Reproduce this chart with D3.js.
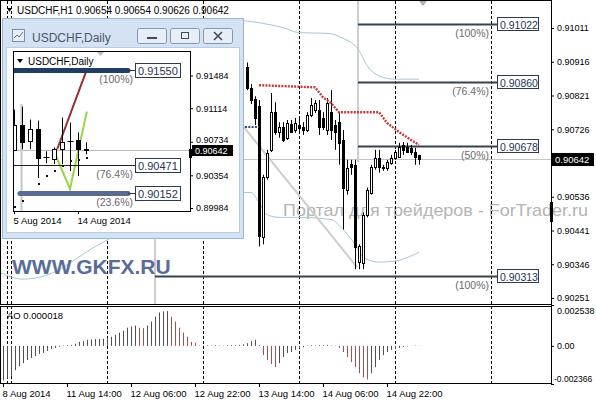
<!DOCTYPE html>
<html>
<head>
<meta charset="utf-8">
<script src="https://cdn.jsdelivr.net/npm/d3@7"></script>
<style>
  body { margin: 0; background: #fff; }
  svg { display: block; font-family: "Liberation Sans", Arial, sans-serif; }
</style>
</head>
<body>
<svg id="chart" width="596" height="400"></svg>
<script>
// ---- H1 bars, bar index 0 = 11 Aug 00:00 ----
var h1Start = 59;
var h1Open = [0.90900, 0.90842, 0.90811, 0.90791, 0.90424, 0.90592, 0.90668, 0.90774, 0.90718, 0.90732,
  0.90702, 0.90741, 0.90724, 0.90738, 0.90732, 0.90724, 0.90766, 0.90780, 0.90780, 0.90758,
  0.90724, 0.90774, 0.90738, 0.90746, 0.90696, 0.90556, 0.90629, 0.90626, 0.90352, 0.90352,
  0.90486, 0.90548, 0.90620, 0.90646, 0.90620, 0.90618, 0.90632, 0.90646, 0.90648, 0.90682,
  0.90676, 0.90674, 0.90662, 0.90654];
var h1High = [0.90914, 0.90853, 0.90819, 0.90808, 0.90598, 0.90668, 0.90828, 0.90802, 0.90746, 0.90746,
  0.90752, 0.90752, 0.90758, 0.90758, 0.90746, 0.90774, 0.90814, 0.90808, 0.90808, 0.90774,
  0.90814, 0.90836, 0.90752, 0.90774, 0.90724, 0.90640, 0.90640, 0.90640, 0.90402, 0.90492,
  0.90562, 0.90626, 0.90668, 0.90668, 0.90626, 0.90640, 0.90654, 0.90668, 0.90688, 0.90690,
  0.90688, 0.90682, 0.90674, 0.90654];
var h1Low = [0.90836, 0.90797, 0.90738, 0.90396, 0.90402, 0.90584, 0.90662, 0.90710, 0.90702, 0.90690,
  0.90696, 0.90716, 0.90716, 0.90716, 0.90710, 0.90718, 0.90760, 0.90772, 0.90710, 0.90724,
  0.90710, 0.90696, 0.90668, 0.90626, 0.90444, 0.90542, 0.90598, 0.90332, 0.90332, 0.90332,
  0.90478, 0.90542, 0.90612, 0.90604, 0.90609, 0.90609, 0.90626, 0.90640, 0.90646, 0.90654,
  0.90660, 0.90654, 0.90626, 0.90626];
var h1Close = [0.90842, 0.90808, 0.90758, 0.90424, 0.90592, 0.90660, 0.90774, 0.90718, 0.90732, 0.90696,
  0.90744, 0.90718, 0.90744, 0.90730, 0.90724, 0.90766, 0.90794, 0.90800, 0.90732, 0.90732,
  0.90800, 0.90724, 0.90718, 0.90688, 0.90562, 0.90618, 0.90620, 0.90396, 0.90396, 0.90486,
  0.90556, 0.90620, 0.90646, 0.90620, 0.90618, 0.90634, 0.90646, 0.90662, 0.90676, 0.90668,
  0.90662, 0.90662, 0.90648, 0.90642];

// Awesome oscillator, first value at bar -2
var aoStart = -2;
var aoValues = [-0.00214, -0.00201, -0.00189, -0.00151, -0.00126, -0.00107, -0.00088, -0.00075, -0.00063, -0.00050,
  -0.00044, -0.00031, -0.00019, -0.00013, -0.00005, 0.00002, 0.00004, 0.00006, 0.00013, 0.00025,
  0.00031, 0.00038, 0.00040, 0.00042, 0.00043, 0.00044, 0.00050, 0.00057, 0.00069, 0.00082,
  0.00094, 0.00113, 0.00120, 0.00126, 0.00113, 0.00110, 0.00126, 0.00151, 0.00182, 0.00208,
  0.00214, 0.00216, 0.00182, 0.00151, 0.00113, 0.00082, 0.00057, 0.00025, 0.00019, 0.00003,
  0.00002, 0.00003, 0.00002, 0.00004, 0.00003, 0.00002, 0.00003, 0.00005, 0.00004, 0.00006,
  0.00010, 0.00017, 0.00031, 0.00038, 0.00006, -0.00057, -0.00088, -0.00113, -0.00132, -0.00107,
  -0.00069, -0.00044, -0.00038, -0.00025, -0.00015, -0.00008, 0.00002, 0.00004, 0.00003, 0.00005,
  0.00004, 0.00006, 0.00003, 0.00002, -0.00013, -0.00038, -0.00069, -0.00101, -0.00132, -0.00170,
  -0.00195, -0.00208, -0.00170, -0.00132, -0.00088, -0.00057, -0.00038, -0.00025, -0.00019, -0.00013,
  -0.00006, -0.00003, 0.00001, 0.00002, 0.000018];

// envelope bands [bar, price]
var upperBand = [[56, 0.91036], [58, 0.91032], [62, 0.91026], [68, 0.91012], [72, 0.90998], [79, 0.90996],
  [83, 0.90982], [87, 0.90948], [89, 0.90906], [93, 0.90872], [96, 0.90867], [102, 0.90867]];
var lowerBand = [[-3, 0.90324], [0, 0.90310], [3, 0.90304], [8, 0.90312], [22, 0.90402], [29, 0.90444],
  [40, 0.90520], [50, 0.90548], [57, 0.90548], [60, 0.90548], [62, 0.90520], [64, 0.90486],
  [67, 0.90478], [72, 0.90478], [80, 0.90472], [83, 0.90444], [86, 0.90402], [88, 0.90366],
  [92, 0.90352], [96, 0.90355], [102, 0.90380]];

// red dotted stop line, gray trend line, blue dotted level
var stopLine = [[62, 0.90850], [76, 0.90844], [78, 0.90816], [80, 0.90800], [82, 0.90774], [92, 0.90774],
  [94, 0.90744], [97, 0.90718], [100, 0.90696], [102, 0.90682]];
var trendLine = [[58, 0.90735], [86.5, 0.90338]];
var blueLevel = [[58.5, 0.90732], [62, 0.90732]];

// fibonacci levels on H1
var fibPrices = [0.91022, 0.90860, 0.90678, 0.90313];
var fibNames = ["(100%)", "(76.4%)", "(50%)", "(100%)"];
var fibFrom = [86.75, 86.75, 86.75, 36];
var fibTo = 121.5;

// axes
var priceTicks = [0.91011, 0.90916, 0.90821, 0.90726, 0.90536, 0.90441, 0.90346, 0.90251];
var lastPrice = 0.90642;
var aoTicks = [0.002538, 0, -0.002366];
var aoTickNames = ["0.002538", "0.00", "-0.002366"];
var timeBars = [-2, 14, 30, 46, 62, 78, 94];
var timeNames = ["8 Aug 2014", "11 Aug 14:00", "12 Aug 06:00", "12 Aug 22:00", "13 Aug 14:00", "14 Aug 06:00", "14 Aug 22:00"];
var daySeparators = [-1, 0, 24, 48, 72, 96, 120];

// ---- Daily inset, day 0 = 5 Aug ----
var dOpen = [0.90649, 0.90918, 0.90739, 0.90873, 0.90559, 0.90537, 0.90649, 0.90739, 0.90750, 0.90654];
var dHigh = [0.91097, 0.91131, 0.90985, 0.90974, 0.90626, 0.90671, 0.91008, 0.90952, 0.90839, 0.90727];
var dLow = [0.90640, 0.90649, 0.90649, 0.90324, 0.90492, 0.90481, 0.90481, 0.90402, 0.90346, 0.90593];
var dClose = [0.90929, 0.90727, 0.90873, 0.90548, 0.90562, 0.90649, 0.90727, 0.90735, 0.90649, 0.90642];
var dDots = [[0, 0.89999], [1, 0.90066], [3, 0.90257], [4, 0.90346], [5, 0.90402], [6, 0.90458],
  [7, 0.90514], [8, 0.90526], [9, 0.90548]];
var dRedLine = [[5.4, 0.90649], [9.1, 0.91550]];
var dGreenLine = [[5, 0.90626], [7, 0.90200], [9.1, 0.91075]];
var dFibPrices = [0.91550, 0.90471, 0.90152];
var dFibNames = ["(100%)", "(76.4%)", "(23.6%)"];
var dFibFrom = [-0.2, -0.2, 0.75];
var dTicks = [0.91484, 0.91114, 0.90734, 0.90354, 0.89984];
var dDateDays = [0, 8];
var dDateNames = ["5 Aug 2014", "14 Aug 2014"];

var svg = d3.select("#chart");

// scales
var xb = d3.scaleLinear().domain([0, 1]).range([11, 15]);
var yMain = d3.scaleLinear().domain([0.90251, 0.91011]).range([298, 28]);
var yAo = d3.scaleLinear().domain([-0.002366, 0.002538]).range([384, 305]);

svg.append("clipPath").attr("id", "mainClip")
  .append("rect").attr("x", 1).attr("y", 1).attr("width", 550).attr("height", 303);
svg.append("clipPath").attr("id", "aoClip")
  .append("rect").attr("x", 1).attr("y", 306).attr("width", 550).attr("height", 78);

// watermark (runs over the price scale, behind everything)
svg.append("text").attr("x", 283).attr("y", 216).attr("font-size", 17)
  .attr("textLength", 305).attr("lengthAdjust", "spacingAndGlyphs")
  .attr("fill", "#b4b4b4").text("Портал для трейдеров - ForTrader.ru");

// day separators over both panels
svg.append("g").selectAll("line").data(daySeparators).enter().append("line")
  .attr("x1", d => Math.round(xb(d)) + 0.5).attr("x2", d => Math.round(xb(d)) + 0.5)
  .attr("y1", 1).attr("y2", 384)
  .attr("stroke", "#000").attr("stroke-dasharray", "3,2");

var main = svg.append("g").attr("clip-path", "url(#mainClip)");

// current price line
main.append("line").attr("x1", 0).attr("x2", 551)
  .attr("y1", Math.round(yMain(lastPrice)) + 0.5).attr("y2", Math.round(yMain(lastPrice)) + 0.5)
  .attr("stroke", "#c4c4c4");

// gray anchor verticals of the fib tool
main.append("line").attr("x1", xb(fibFrom[3])).attr("x2", xb(fibFrom[3]))
  .attr("y1", 20).attr("y2", 304).attr("stroke", "#cfcfcf").attr("stroke-width", 2);
main.append("line").attr("x1", xb(fibFrom[0])).attr("x2", xb(fibFrom[0]))
  .attr("y1", 0).attr("y2", 162).attr("stroke", "#cfcfcf").attr("stroke-width", 2);

// bands
var bandLine = d3.line().x(d => xb(d[0])).y(d => yMain(d[1])).curve(d3.curveMonotoneX);
[upperBand, lowerBand].forEach(function(b) {
  main.append("path").attr("d", bandLine(b)).attr("fill", "none")
    .attr("stroke", "#a8c9d6").attr("stroke-width", 1);
});

// trend line
var straight = d3.line().x(d => xb(d[0])).y(d => yMain(d[1]));
main.append("path").attr("d", straight(trendLine)).attr("stroke", "#cdcdcd")
  .attr("stroke-width", 2).attr("fill", "none");

// fib lines and labels
fibPrices.forEach(function(p, k) {
  var y = Math.round(yMain(p)) + 0.5;
  var x2 = xb(fibTo);
  main.append("line").attr("x1", xb(fibFrom[k])).attr("x2", x2).attr("y1", y).attr("y2", y)
    .attr("stroke", "#34434f").attr("stroke-width", 2);
  main.append("text").attr("x", x2 - 8).attr("y", y + 12).attr("text-anchor", "end")
    .attr("font-size", 10.5).attr("fill", "#6a6a6a").text(fibNames[k]);
  main.append("rect").attr("x", x2 + 0.5).attr("y", y - 7).attr("width", 41).attr("height", 13)
    .attr("fill", "#fff").attr("stroke", "#2b3b4b");
  main.append("text").attr("x", x2 + 3).attr("y", y + 4).attr("font-size", 10.5)
    .attr("fill", "#1f3355").text(d3.format(".5f")(p));
});

// candles
function drawCandles(g, xs, ys, o, h, l, c, start, bodyW) {
  for (var k = 0; k < o.length; k++) {
    var cx = Math.round(xs(start + k)) + 0.5;
    g.append("line").attr("x1", cx).attr("x2", cx)
      .attr("y1", ys(h[k])).attr("y2", ys(l[k])).attr("stroke", "#000");
    var top = Math.round(Math.min(ys(o[k]), ys(c[k]))) + 0.5;
    var hh = Math.round(Math.abs(ys(o[k]) - ys(c[k])));
    if (hh < 1) {
      g.append("line").attr("x1", cx - bodyW / 2 - 1).attr("x2", cx + bodyW / 2 + 1)
        .attr("y1", top).attr("y2", top).attr("stroke", "#000");
    } else {
      g.append("rect").attr("x", cx - bodyW / 2).attr("y", top).attr("width", bodyW).attr("height", hh)
        .attr("fill", c[k] >= o[k] ? "#fff" : "#000").attr("stroke", "#000");
    }
  }
}
drawCandles(main, xb, yMain, h1Open, h1High, h1Low, h1Close, h1Start, 2);

// red dotted stop line
main.append("path").attr("d", straight(stopLine)).attr("fill", "none")
  .attr("stroke", "#c43a38").attr("stroke-width", 2.4).attr("stroke-dasharray", "2,1.2");
main.append("path").attr("d", straight(blueLevel)).attr("fill", "none")
  .attr("stroke", "#2e4a78").attr("stroke-width", 2).attr("stroke-dasharray", "2,1.3");

// GKFX text
main.append("text").attr("x", 12).attr("y", 274).attr("font-size", 21).attr("font-weight", "bold")
  .attr("fill", "#5a6d98").text("WWW.GKFX.RU");

// shift marker
main.append("path").attr("d", "M419,1 L427,1 L423,6 Z").attr("fill", "#b0b0b0");

// header
svg.append("path").attr("d", "M7,8 L12,8 L9.5,12 Z").attr("fill", "#000");
svg.append("text").attr("x", 17).attr("y", 14).attr("font-size", 10).attr("fill", "#000")
  .text("USDCHF,H1  0.90654 0.90654 0.90626 0.90642");

// panel frames
svg.append("rect").attr("x", 0.5).attr("y", 0.5).attr("width", 551).attr("height", 304)
  .attr("fill", "none").attr("stroke", "#000");
svg.append("rect").attr("x", 0.5).attr("y", 306.5).attr("width", 551).attr("height", 77)
  .attr("fill", "none").attr("stroke", "#000");

// price axis
var pAxis = svg.append("g").attr("transform", "translate(551,0)")
  .call(d3.axisRight(yMain).tickValues(priceTicks).tickFormat(d3.format(".5f")).tickSize(3).tickPadding(3));
pAxis.select(".domain").remove();
pAxis.selectAll("text").attr("font-size", 9).attr("font-family", "Liberation Sans, Arial").attr("fill", "#000");

svg.append("rect").attr("x", 550).attr("y", 202).attr("width", 3).attr("height", 20).attr("fill", "#000");
svg.append("rect").attr("x", 552).attr("y", Math.round(yMain(lastPrice)) - 6)
  .attr("width", 42).attr("height", 13).attr("fill", "#000");
svg.append("text").attr("x", 555).attr("y", Math.round(yMain(lastPrice)) + 4)
  .attr("font-size", 9.5).attr("fill", "#fff").text(d3.format(".5f")(lastPrice));

// AO panel
var ao = svg.append("g").attr("clip-path", "url(#aoClip)");
ao.selectAll("line.bar").data(aoValues).enter().append("line").attr("class", "bar")
  .attr("x1", (d, k) => Math.round(xb(aoStart + k)) + 0.5)
  .attr("x2", (d, k) => Math.round(xb(aoStart + k)) + 0.5)
  .attr("y1", yAo(0)).attr("y2", d => yAo(d))
  .attr("stroke", (d, k) => (k > 0 && d < aoValues[k - 1]) ? "#b5484a" : "#4f4f4f");
svg.append("text").attr("x", 7).attr("y", 319).attr("font-size", 9.5)
  .text("AO " + aoValues[aoValues.length - 1].toFixed(6));

var aAxis = svg.append("g").attr("transform", "translate(551,0)")
  .call(d3.axisRight(yAo).tickValues(aoTicks).tickFormat((d, k) => aoTickNames[k]).tickSize(3).tickPadding(3));
aAxis.select(".domain").remove();
aAxis.selectAll("text").attr("font-size", (d, k) => k === 2 ? 8.5 : 9)
  .attr("font-family", "Liberation Sans, Arial").attr("fill", "#000")
  .attr("x", (d, k) => k === 2 ? 3 : 6)
  .attr("dy", (d, k) => k === 0 ? "0.95em" : (k === 2 ? "-0.35em" : "0.32em"));

// time axis
var tAxis = svg.append("g").attr("transform", "translate(0,384)");
timeBars.forEach(function(b, k) {
  var x = Math.round(xb(b)) + 0.5;
  tAxis.append("line").attr("x1", x).attr("x2", x).attr("y1", 0).attr("y2", 3).attr("stroke", "#000");
  tAxis.append("text").attr("x", x - 1).attr("y", 13).attr("font-size", 9.5).text(timeNames[k]);
});

// ---------- Daily inset window ----------
var win = svg.append("g");
win.append("rect").attr("x", 2.5).attr("y", 18.5).attr("width", 241).attr("height", 220)
  .attr("fill", "#d3e3f4").attr("stroke", "#9bb6d0");
win.append("rect").attr("x", 6.5).attr("y", 47.5).attr("width", 233).attr("height", 185)
  .attr("fill", "#fff").attr("stroke", "#b9cde2");
// title icon
win.append("rect").attr("x", 12.5).attr("y", 29.5).attr("width", 12).attr("height", 12)
  .attr("fill", "#e8eef5").attr("stroke", "#7c8ea3");
win.append("path").attr("d", "M14,38 L17,35 L19,37 L23,32").attr("fill", "none").attr("stroke", "#5d7390");
win.append("text").attr("x", 32).attr("y", 42).attr("font-size", 12).attr("fill", "#4a5868").text("USDCHF,Daily");
// title buttons
[137, 170, 203].forEach(function(bx, k) {
  win.append("rect").attr("x", bx + 0.5).attr("y", 28.5).attr("width", 29).attr("height", 15).attr("rx", 2)
    .attr("fill", "#e7eef6").attr("stroke", "#8499b0");
  var cx = bx + 15;
  if (k === 0) win.append("rect").attr("x", cx - 5).attr("y", 37).attr("width", 10).attr("height", 2).attr("fill", "#3d4b5c");
  if (k === 1) win.append("rect").attr("x", cx - 3.5).attr("y", 32.5).attr("width", 7).attr("height", 6)
    .attr("fill", "none").attr("stroke", "#3d4b5c");
  if (k === 2) win.append("path").attr("d", "M" + (cx - 4) + ",32 L" + (cx + 4) + ",40 M" + (cx + 4) + ",32 L" + (cx - 4) + ",40")
    .attr("stroke", "#3d4b5c").attr("stroke-width", 1.6);
});

var xd = d3.scaleLinear().domain([0, 1]).range([14, 22]);
var yd = d3.scaleLinear().domain([0.89984, 0.91484]).range([208, 75.5]);

svg.append("clipPath").attr("id", "dClip")
  .append("rect").attr("x", 14).attr("y", 52).attr("width", 176).attr("height", 159);
var dg = win.append("g").attr("clip-path", "url(#dClip)");

dg.append("line").attr("x1", 13).attr("x2", 191)
  .attr("y1", Math.round(yd(lastPrice)) + 0.5).attr("y2", Math.round(yd(lastPrice)) + 0.5).attr("stroke", "#bdbdbd");
dg.append("line").attr("x1", 21.5).attr("x2", 21.5).attr("y1", 104).attr("y2", 212)
  .attr("stroke", "#c6c6c6").attr("stroke-width", 2);

var dLine = d3.line().x(d => xd(d[0])).y(d => yd(d[1]));
dg.append("path").attr("d", dLine(dRedLine)).attr("stroke", "#9b2d31").attr("stroke-width", 2).attr("fill", "none");
dg.append("path").attr("d", dLine(dGreenLine)).attr("stroke", "#9ad24a").attr("stroke-width", 2).attr("fill", "none");

// fib in daily
dFibPrices.forEach(function(p, k) {
  var y = Math.round(yd(p)) + 0.5;
  if (k === 1) {
    dg.append("line").attr("x1", 13).attr("x2", 140).attr("y1", y).attr("y2", y).attr("stroke", "#222");
  } else {
    dg.append("line").attr("x1", xd(dFibFrom[k])).attr("x2", xd(14.25)).attr("y1", y).attr("y2", y)
      .attr("stroke", k === 0 ? "#213d66" : "#5b6a90").attr("stroke-width", 5).attr("stroke-linecap", "round");
    dg.append("line").attr("x1", xd(14.25)).attr("x2", 140).attr("y1", y).attr("y2", y).attr("stroke", "#2b3b4b");
  }
});

drawCandles(dg, xd, yd, dOpen, dHigh, dLow, dClose, 0, 4);

dg.selectAll("rect.dot").data(dDots).enter().append("rect").attr("class", "dot")
  .attr("x", d => Math.round(xd(d[0]))).attr("y", d => Math.round(yd(d[1])) - 1)
  .attr("width", 2).attr("height", 2).attr("fill", "#111");

dg.append("path").attr("d", "M97,52 L104,52 L100.5,56 Z").attr("fill", "#bdbdbd");

// daily fib labels (over the plot edge)
dFibPrices.forEach(function(p, k) {
  var y = Math.round(yd(p)) + 0.5;
  win.append("text").attr("x", 133).attr("y", y + 12).attr("text-anchor", "end")
    .attr("font-size", 10.5).attr("fill", "#6a6a6a").text(dFibNames[k]);
  win.append("rect").attr("x", 135.5).attr("y", y - 7).attr("width", 45).attr("height", 14)
    .attr("fill", "#fff").attr("stroke", "#2b3b4b");
  win.append("text").attr("x", 138).attr("y", y + 4).attr("font-size", 11)
    .attr("fill", "#1f3355").text(d3.format(".5f")(p));
});

win.append("rect").attr("x", 13.5).attr("y", 51.5).attr("width", 177).attr("height", 160)
  .attr("fill", "none").attr("stroke", "#000");
win.append("path").attr("d", "M17,59 L23,59 L20,63 Z").attr("fill", "#000");
win.append("text").attr("x", 28).attr("y", 65).attr("font-size", 10).text("USDCHF,Daily");

var dAxis = win.append("g").attr("transform", "translate(190,0)")
  .call(d3.axisRight(yd).tickValues(dTicks).tickFormat(d3.format(".5f")).tickSize(3).tickPadding(3));
dAxis.select(".domain").remove();
dAxis.selectAll("text").attr("font-size", 9).attr("font-family", "Liberation Sans, Arial").attr("fill", "#000")
  .attr("dy", (d, k) => k === 2 ? "0.1em" : "0.32em");

win.append("rect").attr("x", 189).attr("y", 149).attr("width", 3).attr("height", 9).attr("fill", "#000");
win.append("rect").attr("x", 192).attr("y", Math.round(yd(lastPrice)) - 5)
  .attr("width", 41).attr("height", 11).attr("fill", "#000");
win.append("text").attr("x", 195).attr("y", Math.round(yd(lastPrice)) + 4)
  .attr("font-size", 9).attr("fill", "#fff").text(d3.format(".5f")(lastPrice));

dDateDays.forEach(function(dd, k) {
  var x = Math.round(xd(dd)) + 0.5;
  win.append("line").attr("x1", x).attr("x2", x).attr("y1", 211).attr("y2", 214).attr("stroke", "#000");
  win.append("text").attr("x", x - 1).attr("y", 224).attr("font-size", 9.5).text(dDateNames[k]);
});
</script>
</body>
</html>
